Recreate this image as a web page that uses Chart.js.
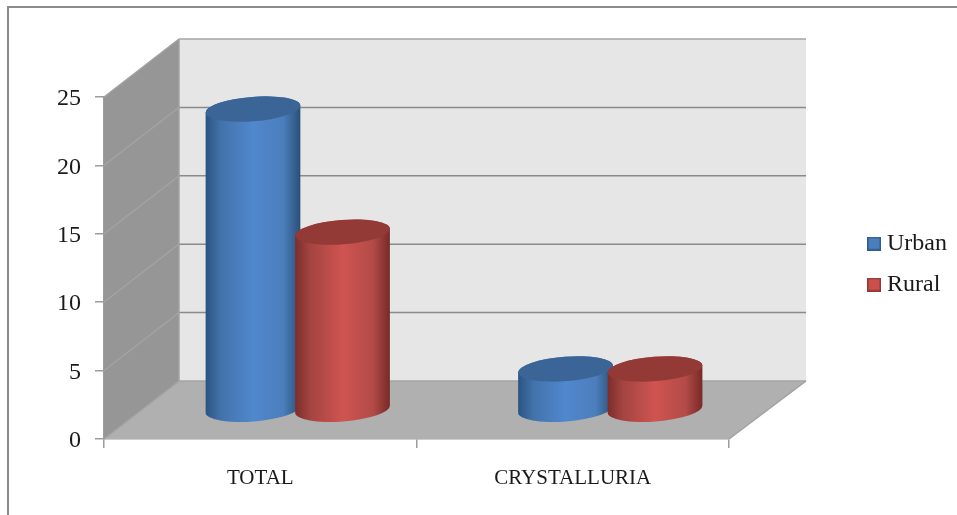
<!DOCTYPE html>
<html>
<head>
<meta charset="utf-8">
<style>
  html, body { margin: 0; padding: 0; background: #fff; }
  #wrap { width: 957px; height: 515px; }
</style>
<script src="https://cdn.jsdelivr.net/npm/chart.js@4"></script>
</head>
<body>
<div id="wrap"><canvas id="chart" width="957" height="515"></canvas></div>
<script>
const categories = ['TOTAL', 'CRYSTALLURIA'];
const urbanValues = [22, 3];
const ruralValues = [13, 3];

// Oblique projection of the chart box: back wall offset from the front plane.
const DEPTH_X = 75;
const DEPTH_Y = 58;
const BACK_STRETCH = 2;
const SERIF = '"Liberation Serif", serif';

const palette = {
  Urban: { swatch: '#4a7ebb', edge: '#2f5c8f', cap: '#3b6597',
           shade: ['#2b5381', '#4272aa', '#5088ce', '#4b7ebc', '#2a4f77'] },
  Rural: { swatch: '#c8504d', edge: '#943634', cap: '#933a37',
           shade: ['#7c2d2b', '#a34441', '#cf5451', '#b34b48', '#772927'] }
};

function legendSwatch(p) {
  const c = document.createElement('canvas');
  c.width = 14; c.height = 14;
  const g = c.getContext('2d');
  g.fillStyle = p.swatch;
  g.fillRect(0, 0, 14, 14);
  g.strokeStyle = p.edge;
  g.lineWidth = 1.5;
  g.strokeRect(0.75, 0.75, 12.5, 12.5);
  return c;
}

// Empty layout box that reserves room for the projected depth of the box.
function spacer(position, size) {
  return {
    position, weight: 500, fullSize: false, options: {},
    left: 0, top: 0, right: 0, bottom: 0, width: 0, height: 0,
    isHorizontal() { return position === 'top' || position === 'bottom'; },
    update(w, h) {
      if (this.isHorizontal()) { this.width = w; this.height = size; }
      else { this.width = size; this.height = h; }
    },
    getPadding() { return { left: 0, top: 0, right: 0, bottom: 0 }; },
    draw() {},
    _layers() { return []; }
  };
}

const depthRoom = {
  id: 'depthRoom',
  beforeInit(chart) {
    Chart.layouts.addBox(chart, spacer('right', 127));
    Chart.layouts.addBox(chart, spacer('top', 56));
  }
};

// Outer frame, side wall, back wall, floor and gridlines, all keyed to the scales.
const chartBox = {
  id: 'chartBox',
  beforeDatasetsDraw(chart) {
    const { ctx, scales: { y }, chartArea: a } = chart;
    const y0 = y.getPixelForValue(0), yMax = y.getPixelForValue(25);
    const L = a.left, R = a.right;
    const backL = L + DEPTH_X, backR = R + DEPTH_X + BACK_STRETCH;
    const poly = (pts, fill) => {
      ctx.beginPath();
      pts.forEach((p, i) => i ? ctx.lineTo(p[0], p[1]) : ctx.moveTo(p[0], p[1]));
      ctx.closePath();
      ctx.fillStyle = fill;
      ctx.fill();
    };
    ctx.save();
    poly([[backL, yMax - DEPTH_Y], [backR, yMax - DEPTH_Y], [backR, y0 - DEPTH_Y], [backL, y0 - DEPTH_Y]], '#e6e6e6');
    poly([[L, yMax], [backL, yMax - DEPTH_Y], [backL, y0 - DEPTH_Y], [L, y0]], '#969696');
    poly([[L, y0], [backL, y0 - DEPTH_Y], [backR, y0 - DEPTH_Y], [R, y0]], '#b0b0b0');

    ctx.lineWidth = 1.5;
    y.ticks.forEach(t => {
      const py = y.getPixelForValue(t.value);
      ctx.beginPath();
      ctx.strokeStyle = t.value === 0 || t.value === 25 ? '#a4a4a4' : '#8a8a8a';
      ctx.moveTo(backL, py - DEPTH_Y);
      ctx.lineTo(backR, py - DEPTH_Y);
      ctx.stroke();
      ctx.beginPath();
      ctx.strokeStyle = '#a2a2a2';
      ctx.moveTo(L, py);
      ctx.lineTo(backL, py - DEPTH_Y);
      ctx.stroke();
    });
    ctx.beginPath();
    ctx.strokeStyle = '#a2a2a2';
    ctx.moveTo(R, y0);
    ctx.lineTo(backR, y0 - DEPTH_Y);
    ctx.moveTo(backL, yMax - DEPTH_Y);
    ctx.lineTo(backL, y0 - DEPTH_Y);
    ctx.stroke();
    ctx.restore();
  },
  beforeDraw(chart) {
    const { ctx, width, height } = chart;
    ctx.save();
    ctx.strokeStyle = '#8c8c8c';
    ctx.lineWidth = 2;
    ctx.beginPath();
    ctx.moveTo(8, height);
    ctx.lineTo(8, 7);
    ctx.lineTo(width, 7);
    ctx.stroke();
    ctx.restore();
  }
};

// Bars are drawn as tilted cylinders standing at mid depth of the box.
function drawCylinder(ctx, el, p) {
  const cx = el.x + DEPTH_X / 2;
  const top = el.y - DEPTH_Y / 2;
  const bottom = el.base - DEPTH_Y / 2;
  const rx = el.width / 2, ry = 12.2, tilt = -4.4 * Math.PI / 180;

  const g = ctx.createLinearGradient(cx - rx, 0, cx + rx, 0);
  [0, 0.16, 0.5, 0.82, 1].forEach((s, i) => g.addColorStop(s, p.shade[i]));

  ctx.beginPath();
  ctx.ellipse(cx, bottom, rx, ry, tilt, 0, Math.PI);
  ctx.ellipse(cx, top, rx, ry, tilt, Math.PI, 2 * Math.PI);
  ctx.closePath();
  ctx.fillStyle = g;
  ctx.fill();

  ctx.beginPath();
  ctx.ellipse(cx, top, rx, ry, tilt, 0, 2 * Math.PI);
  ctx.fillStyle = p.cap;
  ctx.fill();
}

const cylinders = {
  id: 'cylinders',
  beforeDatasetDraw() { return false; },
  afterDatasetsDraw(chart) {
    const { ctx } = chart;
    ctx.save();
    categories.forEach((_, i) => {
      chart.data.datasets.forEach((ds, d) => {
        drawCylinder(ctx, chart.getDatasetMeta(d).data[i], palette[ds.label]);
      });
    });
    ctx.restore();
  }
};

new Chart(document.getElementById('chart'), {
  type: 'bar',
  data: {
    labels: categories,
    datasets: [
      { label: 'Urban', data: urbanValues, backgroundColor: palette.Urban.swatch },
      { label: 'Rural', data: ruralValues, backgroundColor: palette.Rural.swatch }
    ]
  },
  options: {
    responsive: false,
    animation: false,
    layout: { padding: { top: 41, left: 0, right: 0, bottom: 28 } },
    datasets: { bar: { categoryPercentage: 0.573, barPercentage: 1.061 } },
    scales: {
      x: {
        afterFit(s) { s.height = 48; },
        grid: { drawOnChartArea: false, color: '#9c9c9c', lineWidth: 1.5, tickLength: 9 },
        border: { color: '#9c9c9c', width: 1.5 },
        ticks: { color: '#1a1a1a', font: { family: SERIF, size: 21 }, padding: 18, maxRotation: 0 }
      },
      y: {
        min: 0, max: 25,
        afterFit(s) { s.width = 104; },
        grid: { drawOnChartArea: false, color: '#9c9c9c', lineWidth: 1.5, tickLength: 9 },
        border: { color: '#9c9c9c', width: 1.5 },
        ticks: { stepSize: 5, color: '#1a1a1a', font: { family: SERIF, size: 24 }, padding: 14, labelOffset: 2 }
      }
    },
    plugins: {
      tooltip: { enabled: false },
      legend: {
        position: 'right',
        maxWidth: 101,
        labels: {
          color: '#1a1a1a',
          font: { family: SERIF, size: 24 },
          usePointStyle: true,
          pointStyleWidth: 2,
          boxHeight: 14,
          padding: 17,
          generateLabels(chart) {
            return chart.data.datasets.map((ds, i) => ({
              text: ds.label,
              datasetIndex: i,
              fillStyle: ds.backgroundColor,
              strokeStyle: ds.backgroundColor,
              fontColor: '#1a1a1a',
              pointStyle: legendSwatch(palette[ds.label])
            }));
          }
        }
      }
    }
  },
  plugins: [depthRoom, chartBox, cylinders]
});
</script>
</body>
</html>
